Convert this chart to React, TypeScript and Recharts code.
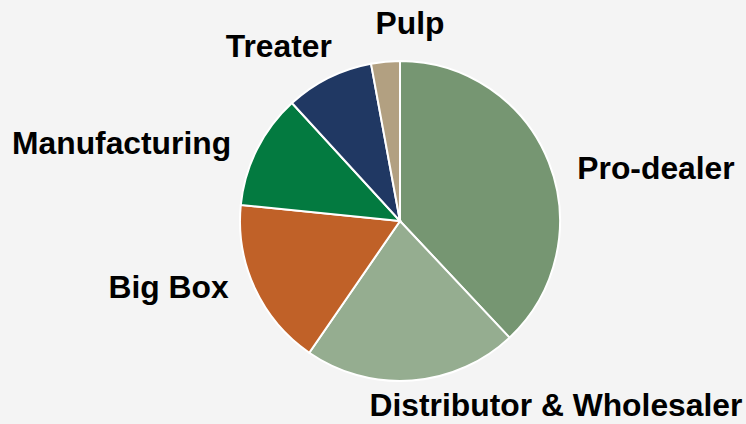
import React from "react";
import { PieChart, Pie, Cell } from "recharts";

const categories = ["Pro-dealer", "Distributor & Wholesaler", "Big Box", "Manufacturing", "Treater", "Pulp"];
const shares = [38, 21.6, 17, 11.6, 8.9, 2.9];
const colors = ["#769672", "#95ad90", "#c06128", "#037a40", "#203863", "#b2a081"];

const labelLayout: Record<string, { anchor: "start" | "end" | "middle"; dx: number; dy: number }> = {
  "Pro-dealer": { anchor: "start", dx: 10, dy: 13 },
  "Distributor & Wholesaler": { anchor: "start", dx: -44, dy: 5 },
  "Big Box": { anchor: "end", dx: -8, dy: -10 },
  "Manufacturing": { anchor: "end", dx: -8, dy: 3 },
  "Treater": { anchor: "end", dx: 12, dy: -14 },
  "Pulp": { anchor: "start", dx: -8, dy: -19 },
};

const data = categories.map((name, i) => ({ name, value: shares[i] }));

const RAD = Math.PI / 180;

const renderLabel = (props: any) => {
  const { cx, cy, midAngle, outerRadius, name } = props;
  const r = outerRadius + 20;
  const x = cx + r * Math.cos(-midAngle * RAD);
  const y = cy + r * Math.sin(-midAngle * RAD);
  const l = labelLayout[name] || { anchor: "middle", dx: 0, dy: 0 };
  return (
    <text
      x={x + l.dx}
      y={y + l.dy}
      textAnchor={l.anchor}
      dominantBaseline="central"
      fill="#000"
      style={{ fontFamily: "'Liberation Sans', Arial, sans-serif", fontWeight: 700, fontSize: 31.8 }}
    >
      {name}
    </text>
  );
};

export default function App() {
  return (
    <div style={{ position: "fixed", left: 0, top: 0, width: 746, height: 424, background: "#f4f4f4" }}>
      <PieChart width={746} height={424} margin={{ top: 0, right: 0, bottom: 0, left: 0 }}>
        <Pie
          data={data}
          dataKey="value"
          nameKey="name"
          cx={400}
          cy={221}
          outerRadius={160}
          startAngle={90}
          endAngle={-270}
          stroke="#ffffff"
          strokeWidth={2}
          label={renderLabel}
          labelLine={false}
          isAnimationActive={false}
        >
          {data.map((d, i) => (
            <Cell key={d.name} fill={colors[i]} />
          ))}
        </Pie>
      </PieChart>
    </div>
  );
}
